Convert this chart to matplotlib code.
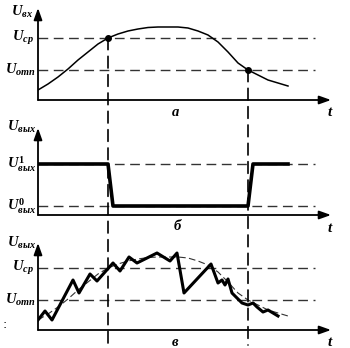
import matplotlib.pyplot as plt
from matplotlib.patches import ConnectionPatch

plt.rcParams['mathtext.fontset'] = 'custom'
plt.rcParams['mathtext.it'] = 'Liberation Serif:italic:bold'
plt.rcParams['mathtext.rm'] = 'Liberation Serif:bold'
plt.rcParams['mathtext.bf'] = 'Liberation Serif:bold'

# input signal (panel a and dashed copy in panel в)
t_in = [0, 1, 2, 3, 4, 5, 6, 7, 8, 9, 10, 11, 12, 13, 14, 15, 16, 17, 18, 19, 20, 21, 22, 23, 24, 25]
u_in = [1.0, 1.6, 2.3, 3.1, 4.0, 4.8, 5.6, 6.2, 6.6, 6.9, 7.1, 7.25, 7.3, 7.3, 7.3, 7.2, 6.9, 6.5, 5.8, 4.8,
        3.7, 3.0, 2.5, 2.0, 1.7, 1.4]
u_cp = 6.2
u_otp = 3.0
t_on = 7.0
t_off = 21.0

# comparator output (panel б)
t_out = [0, 7.0, 7.5, 21.0, 21.5, 25.0]
u_out = [5.1, 5.1, 0.9, 0.9, 5.1, 5.1]
u_hi = 5.1
u_lo = 0.9

# noisy output (panel в)
t_noise = [0, 0.7, 1.4, 3.5, 4.1, 5.2, 5.9, 7.5, 8.2, 9.1, 9.9, 11.9, 13.2, 13.9, 14.6, 17.3, 18.0, 18.4,
           18.7, 19.0, 19.4, 19.9, 20.4, 21.0, 21.5, 21.9, 22.5, 23.0, 23.5, 24.0]
u_noise = [1.0, 1.9, 1.0, 5.0, 3.7, 5.6, 4.9, 6.7, 5.9, 7.3, 6.7, 7.7, 6.9, 7.7, 3.7, 6.6, 4.7, 5.0,
           4.5, 5.1, 3.7, 3.2, 2.7, 2.5, 2.7, 2.3, 1.8, 2.0, 1.7, 1.4]

W, H = 350, 348
fig = plt.figure(figsize=(3.5, 3.48), dpi=100)


def make_axes(base_px):
    # base_px: pixel row of the time axis
    ax = fig.add_axes([38 / W, (H - base_px) / H, 302 / W, 95 / H])
    ax.set_xlim(0, 30.2)
    ax.set_ylim(0, 9.5)
    ax.axis('off')
    return ax


def axes_lines(ax, ytop):
    ap = dict(arrowstyle='-|>,head_length=0.7,head_width=0.25', lw=1.3, color='black', shrinkA=0, shrinkB=0)
    ax.annotate('', xy=(29.3, 0), xytext=(0, 0), arrowprops=ap, annotation_clip=False)
    ax.annotate('', xy=(0, ytop), xytext=(0, 0), arrowprops=ap, annotation_clip=False)
    ax.text(29.2, -1.2, '$t$', fontsize=11, ha='center', va='center')


def hline(ax, y):
    ax.plot([0, 27.7], [y, y], color='#333333', lw=1.0, dashes=(7, 4))


ax_a = make_axes(100)
ax_b = make_axes(215)
ax_c = make_axes(330)

# panel a
axes_lines(ax_a, 9.2)
hline(ax_a, u_cp)
hline(ax_a, u_otp)
ax_a.plot(t_in, u_in, color='black', lw=1.1)
ax_a.plot([t_on, t_off], [u_cp, u_otp], 'o', color='black', ms=4)
ax_a.text(-1.6, 8.8, r'$U_{вх}$', fontsize=10.5, ha='center', va='center')
ax_a.text(-0.4, u_cp, r'$U_{ср}$', fontsize=10.5, ha='right', va='center')
ax_a.text(-0.2, u_otp, r'$U_{отп}$', fontsize=10.5, ha='right', va='center')
ax_a.text(13.7, -1.2, '$а$', fontsize=10.5, ha='center', va='center')

# panel б
axes_lines(ax_b, 8.7)
hline(ax_b, u_hi)
hline(ax_b, u_lo)
ax_b.plot(t_out, u_out, color='black', lw=2.6)
ax_b.text(-1.6, 8.8, r'$U_{вых}$', fontsize=10.5, ha='center', va='center')
ax_b.text(-0.2, u_hi, r'$U^{\mathrm{1}}_{вых}$', fontsize=10.5, ha='right', va='center')
ax_b.text(-0.2, u_lo, r'$U^{\mathrm{0}}_{вых}$', fontsize=10.5, ha='right', va='center')
ax_b.text(14.0, -1.0, '$б$', fontsize=10.5, ha='center', va='center')

# panel в
axes_lines(ax_c, 8.7)
hline(ax_c, u_cp)
hline(ax_c, u_otp)
ax_c.plot(t_in, u_in, color='#333333', lw=0.8, dashes=(6, 3))
ax_c.plot(t_noise, u_noise, color='black', lw=2.2)
ax_c.text(-1.6, 8.7, r'$U_{вых}$', fontsize=10.5, ha='center', va='center')
ax_c.text(-0.4, u_cp, r'$U_{ср}$', fontsize=10.5, ha='right', va='center')
ax_c.text(-0.2, u_otp, r'$U_{отп}$', fontsize=10.5, ha='right', va='center')
ax_c.text(13.7, -1.1, '$в$', fontsize=10.5, ha='center', va='center')
ax_c.text(-3.3, 0.5, ':', fontsize=9, ha='center', va='center')

# vertical switching lines through all panels
for tx, uy in [(t_on, u_cp), (t_off, u_otp)]:
    con = ConnectionPatch(xyA=(tx, uy), coordsA=ax_a.transData, xyB=(tx, -1.5), coordsB=ax_c.transData,
                          color='black', lw=1.2, linestyle=(0, (7, 4)))
    fig.add_artist(con)

fig.savefig('out.png', dpi=100)
